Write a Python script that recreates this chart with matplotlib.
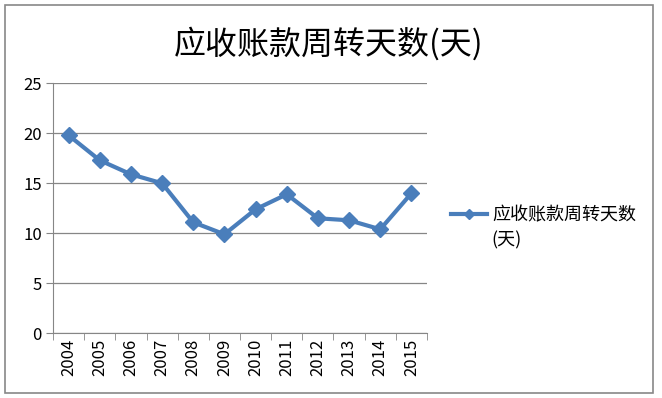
import matplotlib.pyplot as plt
from matplotlib.patches import Rectangle
from matplotlib.ticker import FixedLocator

plt.rcParams['font.family'] = ['Noto Sans CJK SC', 'DejaVu Sans']

years = ['2004', '2005', '2006', '2007', '2008', '2009',
         '2010', '2011', '2012', '2013', '2014', '2015']
days = [19.8, 17.3, 15.9, 15.0, 11.1, 9.9, 12.4, 13.9, 11.5, 11.3, 10.4, 14.0]
title = '应收账款周转天数(天)'
series_name = '应收账款周转天数'
series_unit = '(天)'

fig = plt.figure(figsize=(6.62, 3.98), dpi=100)
ax = fig.add_axes([0.0801, 0.1626, 0.5649, 0.6281])

x = list(range(len(years)))
line, = ax.plot(x, days, color='#4A7EBB', linewidth=3, marker='D',
                markersize=8.5, label=series_name)

ax.set_ylim(0, 25)
ax.set_yticks([0, 5, 10, 15, 20, 25])
ax.set_xlim(-0.5, len(years) - 0.5)
ax.set_xticks(x)
ax.set_xticklabels(years, rotation=90, fontsize=12)
ax.xaxis.set_minor_locator(FixedLocator([i - 0.5 for i in range(len(years) + 1)]))
ax.tick_params(axis='x', which='major', length=0, pad=4)
ax.tick_params(axis='x', which='minor', length=5, color='#868686')
ax.tick_params(axis='y', length=5, color='#868686', labelsize=12, pad=3)

ax.grid(axis='y', color='#868686', linewidth=0.9)
ax.set_axisbelow(True)
for s in ['top', 'right']:
    ax.spines[s].set_visible(False)
ax.spines['left'].set_color('#868686')
ax.spines['bottom'].set_color('#868686')

fig.text(0.497, 0.889, title, ha='center', va='center', fontsize=23)

# legend: series name wraps onto a second line, handle sits by the first line
leg = fig.legend(handles=[line], loc='center left', bbox_to_anchor=(0.657, 0.458),
                 frameon=False, fontsize=13, handlelength=2.0, handletextpad=0.3,
                 markerscale=0.6)
fig.text(0.743, 0.397, series_unit, ha='left', va='center', fontsize=13)

fig.add_artist(Rectangle((0.008, 0.013), 0.978, 0.975, transform=fig.transFigure,
                         fill=False, edgecolor='#888888', linewidth=1.2))

fig.savefig('out.png', dpi=100)
